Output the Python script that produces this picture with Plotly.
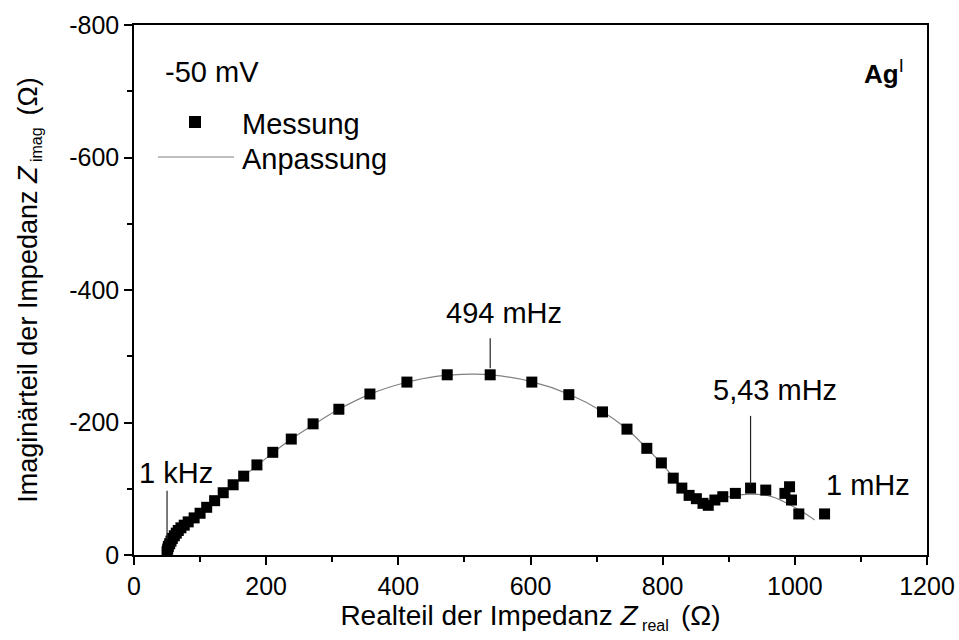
import plotly.graph_objects as go

# Measured data (Z_real, -Z_imag in Ohm)
meas_x = [50, 51, 52, 54, 56, 58, 61, 64, 67, 71, 76, 82, 91, 100, 110, 122, 135, 150, 166, 186,
          210, 238, 271, 310, 357, 413, 474, 539, 602, 658, 709, 746, 776, 798, 816, 829, 840, 851,
          861, 869, 879, 891, 910, 933, 956, 985, 992, 995, 1006, 1045]
meas_y = [-5, -9, -13, -17, -21, -25, -29, -33, -37, -41, -45, -50, -56, -63, -72, -82, -94, -106, -119, -136,
          -155, -175, -198, -220, -243, -261, -272, -272, -261, -242, -216, -190, -161, -139, -116, -101, -90, -85,
          -78, -75, -83, -88, -93, -101, -98, -93, -103, -83, -62, -62]

# Fit curve
fit_x = [50, 55, 62, 72, 85, 100, 120, 140, 165, 190, 220, 250, 280, 310, 360, 410, 460, 510, 540,
         600, 660, 710, 745, 775, 800, 820, 835, 850, 866, 885, 905, 935, 965, 990, 1010, 1030]
fit_y = [-5, -15, -25, -36, -48, -60, -78, -97, -118, -138, -162, -183, -202, -220, -244, -260, -270, -273, -272,
         -262, -242, -216, -191, -162, -136, -113, -96, -86, -80, -84, -89, -92, -88, -77, -66, -53]

# Tick labels
x_tickvals = [0, 200, 400, 600, 800, 1000, 1200]
x_ticktext = ["0", "200", "400", "600", "800", "1000", "1200"]
y_tickvals = [0, -200, -400, -600, -800]
y_ticktext = ["0", "-200", "-400", "-600", "-800"]

# Frequency labels: text, pointed x, line bottom y, line top y, text x, text y
freq_text = ["1 kHz", "494 mHz", "5,43 mHz", "1 mHz"]
freq_px = [50, 539, 933, None]
freq_py0 = [-23, -282, -106, None]
freq_py1 = [-97, -327, -210, None]
freq_tx = [64, 560, 970, 1110]
freq_ty = [-124, -366, -249, -106]

FONT = "Arial, Liberation Sans, sans-serif"
TXT = 29

fig = go.Figure()
fig.add_trace(go.Scatter(x=fit_x, y=fit_y, mode="lines", line=dict(color="#808080", width=1.2, shape="spline"),
                         name="Anpassung", showlegend=False))
fig.add_trace(go.Scatter(x=meas_x, y=meas_y, mode="markers",
                         marker=dict(symbol="square", size=11, color="black"),
                         name="Messung", showlegend=False))

for t, px, py0, py1, tx, ty in zip(freq_text, freq_px, freq_py0, freq_py1, freq_tx, freq_ty):
    if px is not None:
        fig.add_shape(type="line", x0=px, x1=px, y0=py0, y1=py1, xref="x", yref="y",
                      line=dict(color="#222222", width=1.2))
    fig.add_annotation(x=tx, y=ty, xref="x", yref="y", text=t, showarrow=False,
                       xanchor="center", yanchor="middle",
                       font=dict(size=TXT, color="black", family=FONT))

# Manual legend
fig.add_shape(type="rect", xref="paper", yref="paper", x0=(189 - 134) / 793, x1=(201 - 134) / 793,
              y0=(555 - 128) / 530, y1=(555 - 116) / 530, fillcolor="black", line=dict(width=0))
fig.add_shape(type="line", xref="paper", yref="paper", x0=(158 - 134) / 793, x1=(234 - 134) / 793,
              y0=(555 - 157) / 530, y1=(555 - 157) / 530, line=dict(color="#808080", width=1.2))
fig.add_annotation(xref="paper", yref="paper", x=(240 - 134) / 793, y=(555 - 124) / 530, xanchor="left",
                   yanchor="middle", text="Messung", showarrow=False,
                   font=dict(size=TXT, color="black", family=FONT))
fig.add_annotation(xref="paper", yref="paper", x=(240 - 134) / 793, y=(555 - 159) / 530, xanchor="left",
                   yanchor="middle", text="Anpassung", showarrow=False,
                   font=dict(size=TXT, color="black", family=FONT))
fig.add_annotation(xref="paper", yref="paper", x=(163 - 134) / 793, y=(555 - 72) / 530, xanchor="left",
                   yanchor="middle", text="-50 mV", showarrow=False,
                   font=dict(size=TXT, color="black", family=FONT))
fig.add_annotation(xref="paper", yref="paper", x=(906 - 134) / 793, y=(555 - 72) / 530, xanchor="right",
                   yanchor="middle", text="<b>Ag</b><sup>I</sup>", showarrow=False,
                   font=dict(size=26, color="black", family=FONT))

axis_common = dict(showgrid=False, zeroline=False, showline=True, linecolor="black", linewidth=1.5,
                   mirror=True, ticks="outside", ticklen=8, tickwidth=1.5, tickcolor="black",
                   automargin=False,
                   tickfont=dict(size=25, color="black", family=FONT))

fig.update_xaxes(range=[0, 1200], tickmode="array", tickvals=x_tickvals, ticktext=x_ticktext,
                 minor=dict(dtick=100, tick0=0, ticks="outside", ticklen=5, tickwidth=1.5, tickcolor="black"),
                 title=dict(text="Realteil der Impedanz <i>Z</i><sub><span style='font-size:16px'> real </span></sub> (Ω)",
                            font=dict(size=28, color="black", family=FONT), standoff=0),
                 **axis_common)
fig.update_yaxes(range=[0, -800], tickmode="array", tickvals=y_tickvals, ticktext=y_ticktext,
                 minor=dict(dtick=100, tick0=0, ticks="outside", ticklen=5, tickwidth=1.5, tickcolor="black"),
                 title=dict(text="Imaginärteil der Impedanz <i>Z</i><sub><span style='font-size:16px'> imag </span></sub> (Ω)",
                            font=dict(size=27, color="black", family=FONT), standoff=24),
                 **axis_common)

fig.update_layout(width=959, height=640, margin=dict(l=134, r=32, t=25, b=85),
                  paper_bgcolor="white", plot_bgcolor="white", showlegend=False,
                  font=dict(family=FONT, color="black"))

fig.write_html("out.html", config={"displayModeBar": False},
               post_script="document.body.style.margin='0';document.body.style.overflow='hidden';")
